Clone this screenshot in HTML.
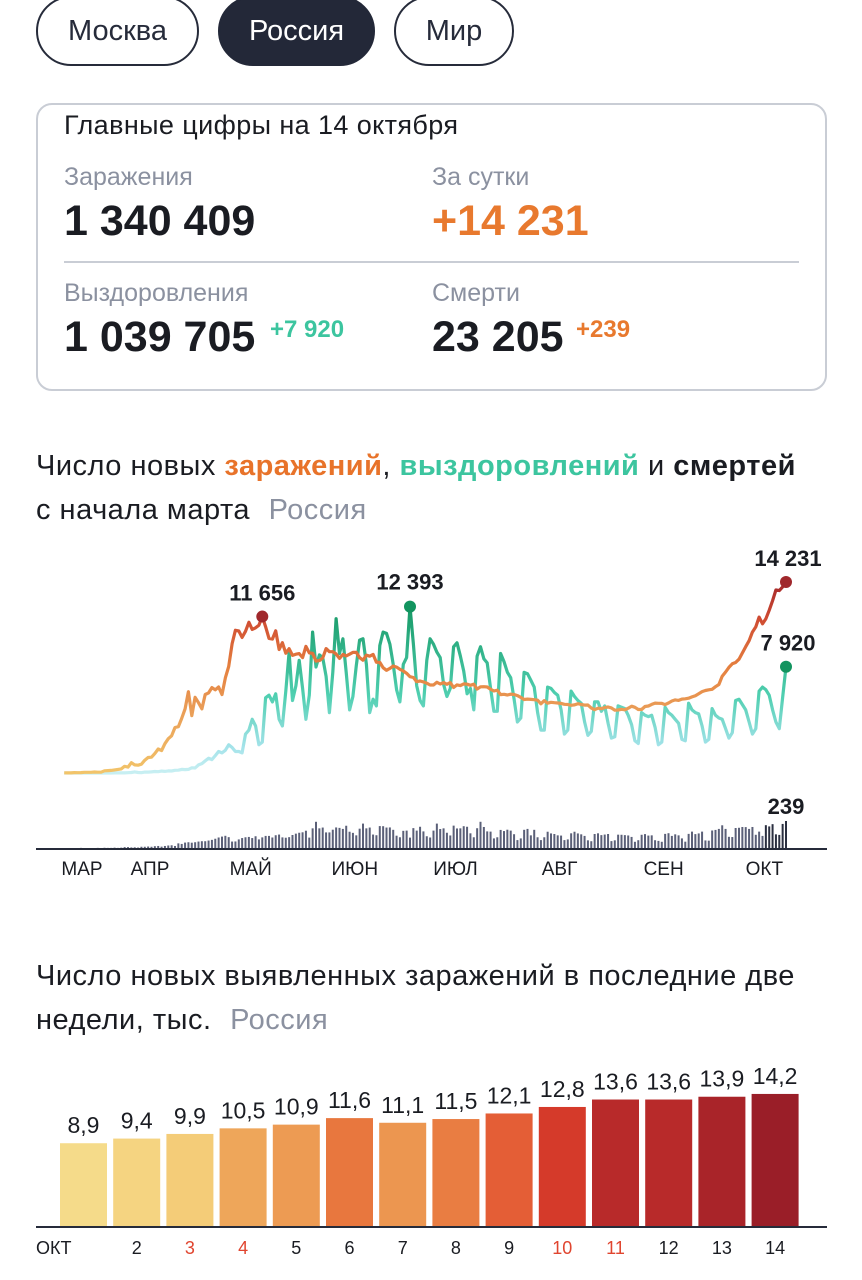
<!DOCTYPE html>
<html><head><meta charset="utf-8">
<style>
*{margin:0;padding:0;box-sizing:border-box}
body{width:862px;height:1280px;background:#fff;font-family:"Liberation Sans",sans-serif;color:#1a1c22;position:relative;overflow:hidden}
.abs{position:absolute;white-space:nowrap}
.tab{position:absolute;top:-4px;height:70px;border:2px solid #262b3a;border-radius:35px;font-size:29px;line-height:66px;text-align:center;color:#262b3a}
.lbl{font-size:25px;color:#8b91a0}
.big{font-size:43px;font-weight:bold}
.sup{font-size:24px;font-weight:bold}
.ttl{font-size:29px;color:#1a1c22;letter-spacing:0.5px}
</style></head><body>
<div class="tab" style="left:36px;width:163px">Москва</div>
<div class="tab" style="left:218px;width:157px;background:#232838;color:#fff;border-color:#232838">Россия</div>
<div class="tab" style="left:394px;width:120px">Мир</div>

<div class="abs" style="left:36px;top:103px;width:791px;height:288px;border:2px solid #c9cdd5;border-radius:16px"></div>
<div class="abs" style="left:64px;top:110px;font-size:27px;letter-spacing:0.4px">Главные цифры на 14 октября</div>
<div class="abs lbl" style="left:64px;top:163px">Заражения</div>
<div class="abs big" style="left:64px;top:197px">1 340 409</div>
<div class="abs lbl" style="left:432px;top:163px">За сутки</div>
<div class="abs big" style="left:432px;top:197px;color:#e8792e">+14 231</div>
<div class="abs" style="left:64px;top:261px;width:735px;height:2px;background:#c9cdd5"></div>
<div class="abs lbl" style="left:64px;top:279px">Выздоровления</div>
<div class="abs big" style="left:64px;top:313px">1 039 705</div>
<div class="abs sup" style="left:270px;top:316px;color:#3cc59f">+7 920</div>
<div class="abs lbl" style="left:432px;top:279px">Смерти</div>
<div class="abs big" style="left:432px;top:313px">23 205</div>
<div class="abs sup" style="left:576px;top:316px;color:#e8792e">+239</div>

<div class="abs ttl" style="left:36px;top:450px">Число новых <b style="color:#e8732a">заражений</b>, <b style="color:#3cc59f">выздоровлений</b> и <b>смертей</b></div>
<div class="abs ttl" style="left:36px;top:494px">с начала марта <span style="color:#8b91a0;margin-left:10px">Россия</span></div>

<svg id="lc" class="abs" style="left:0;top:530px" width="862" height="360" viewBox="0 530 862 360">
<defs>
<linearGradient id="gI" gradientUnits="userSpaceOnUse" x1="0" y1="773" x2="0" y2="580">
<stop offset="0" stop-color="#f2c46a"/><stop offset="0.35" stop-color="#e99a55"/><stop offset="0.55" stop-color="#e5803f"/><stop offset="0.8" stop-color="#cf4b32"/><stop offset="1" stop-color="#a1262a"/></linearGradient>
<linearGradient id="gR" gradientUnits="userSpaceOnUse" x1="0" y1="773" x2="0" y2="600">
<stop offset="0" stop-color="#c8eff2"/><stop offset="0.15" stop-color="#a4e3ea"/><stop offset="0.45" stop-color="#4fcfb0"/><stop offset="1" stop-color="#12945f"/></linearGradient>
</defs>
</svg>

<div class="abs ttl" style="left:36px;top:960px">Число новых выявленных заражений в последние две</div>
<div class="abs ttl" style="left:36px;top:1004px">недели, тыс. <span style="color:#8b91a0;margin-left:10px">Россия</span></div>
<svg id="bc" class="abs" style="left:0;top:1050px" width="862" height="230" viewBox="0 1050 862 230"></svg>

<script>
const infections=[0,0,0,1,0,0,0,0,3,3,7,6,14,11,4,30,21,33,52,54,53,71,57,56,163,182,196,228,270,302,500,
440,771,601,582,658,954,1154,1175,1459,1786,1667,2186,2558,2774,3388,3448,4070,4785,6060,4268,5642,5236,4774,5849,5966,6361,6198,6411,5841,7099,
7933,9623,10633,10581,10102,10559,11231,10699,10817,11012,11656,10899,10028,9974,10598,9200,9709,8926,9263,8764,8849,8894,8599,9434,8946,8915,8338,8371,8572,9268,9035,
9035,8863,8536,8831,8726,8855,8984,8985,8595,8404,8779,8706,8835,8248,8246,7843,7652,7790,7972,7889,7728,7600,7425,7176,7113,6800,6852,6791,6693,6556,
6556,6760,6632,6736,6611,6736,6368,6562,6509,6635,6615,6537,6615,6248,6422,6428,6406,6234,6109,6170,5842,5862,5811,5871,5848,5765,5635,5475,5509,5482,5462,
5427,5159,5394,5204,5267,5241,5212,5189,5118,5102,5041,5077,5161,5102,5061,5065,4839,4718,4828,4790,4870,4921,4852,4676,4696,4744,4711,4829,4980,4897,4729,
4729,4952,4993,5110,5205,5195,5185,5099,5218,5363,5449,5406,5509,5529,5572,5670,5762,5905,6065,6148,6196,6234,6431,6595,7212,7523,7867,8135,8232,8481,
8945,9412,9859,10499,10888,11615,11115,11493,12126,12846,13634,13592,13868,14231];
const recoveries=[0,0,0,0,0,0,0,0,0,0,0,0,0,0,0,0,0,0,0,0,0,0,0,0,0,0,1,8,5,6,6,
20,40,80,40,25,70,70,85,115,100,140,120,160,150,200,210,270,250,270,390,370,600,700,900,1100,1000,1300,1600,1500,1700,
2100,1900,1600,1600,1500,2900,3200,4000,3500,2100,2300,5600,5800,5300,5900,4000,3500,6100,9000,5400,6500,8400,6300,4000,5800,10500,7900,8800,8600,7200,4500,
7500,11500,8900,10000,7500,4700,5700,8000,9900,10000,8100,4500,5500,5000,9500,10500,10400,9600,8100,6200,5300,8100,8600,12393,9600,6500,5400,5000,8400,10000,
9600,9000,8600,6600,5700,6300,9400,9700,8700,7600,5900,6300,4700,8700,9400,8500,8200,6300,4600,4600,8900,8300,7500,7100,5500,3800,4100,7500,7400,6900,6400,
4500,3200,3200,6400,6300,6000,5800,4700,2900,3200,6100,5700,5400,5200,3800,2800,3100,5300,5300,4600,5000,3700,2600,2700,5000,4900,4800,4300,3600,2400,2200,
4500,4300,4200,4300,3400,2100,2300,4900,4500,4300,4000,3700,2500,2400,5200,4700,4500,4400,3500,2300,2500,4800,4300,4100,4000,3300,2600,3000,5400,5500,
5100,4700,3800,2900,3300,6100,6400,6200,5800,4700,3800,3300,5600,7920];
const deaths=[0,0,0,0,0,0,0,0,0,0,0,0,0,0,0,0,0,1,0,0,0,0,1,0,2,1,1,3,1,3,8,
8,5,6,4,11,11,13,11,16,18,12,18,22,24,18,41,36,48,51,47,51,57,60,60,66,72,82,93,101,108,
96,57,58,76,88,95,98,88,104,76,94,107,107,93,113,119,94,91,96,115,127,135,139,153,92,174,232,174,181,138,138,
162,182,178,169,197,144,134,112,171,216,174,181,119,113,194,193,181,182,161,109,95,152,154,92,176,154,188,147,104,93,
154,216,168,174,135,111,198,173,174,193,188,130,95,175,232,186,147,145,85,95,160,150,162,154,122,70,85,161,169,112,161,
95,70,95,144,129,124,112,110,70,76,130,144,129,121,107,68,60,124,130,114,119,124,61,68,118,117,114,111,98,55,69,
117,123,110,112,69,63,55,125,131,107,121,112,85,56,125,145,123,129,145,67,65,155,160,169,201,169,99,97,177,179,
186,185,169,186,117,145,107,202,191,211,121,116,213,239];
const monthLabels=["МАР","АПР","МАЙ","ИЮН","ИЮЛ","АВГ","СЕН","ОКТ"];
const monthStartDays=[0,31,61,92,122,153,184,214];
const barDays=["ОКТ","2","3","4","5","6","7","8","9","10","11","12","13","14"];
const barValues=[8.9,9.4,9.9,10.5,10.9,11.6,11.1,11.5,12.1,12.8,13.6,13.6,13.9,14.2];
const barHolidays=[false,false,true,true,false,false,false,false,false,true,true,false,false,false];

const NS="http://www.w3.org/2000/svg";
function mk(p,tag,attrs){const e=document.createElementNS(NS,tag);for(const k in attrs)e.setAttribute(k,attrs[k]);p.appendChild(e);return e;}
const lc=document.getElementById('lc');
const N=infections.length;
const START=12;
const dayW=(786-128)/(N-1-31);
const xS=i=>786-(N-1-i)*dayW;
const yS=v=>773-v*(191/14231);
const yD=v=>848-v*(27/239);
deaths.forEach((d,i)=>{
  if(i<START)return;
  const h=848-yD(d);
  const r=mk(lc,'rect',{x:xS(i)-1,y:yD(d),width:2,height:Math.max(h,0.3),fill:i>=N-7?'#2a2f40':'#5b6078'});
  
  
});
const ax=mk(lc,'line',{x1:36,x2:827,y1:849,y2:849,stroke:'#262b3a','stroke-width':2});


monthLabels.forEach((m,k)=>{
  const t=mk(lc,'text',{x:Math.max(82,xS(monthStartDays[k])+22),y:875,'text-anchor':'middle','font-size':19,fill:'#1a1c22'});
  t.textContent=m;
  
  
});
function path(arr){let s='';for(let i=START;i<arr.length;i++)s+=(i>START?'L':'M')+xS(i).toFixed(1)+' '+yS(arr[i]).toFixed(1);return s;}
const rp=mk(lc,'path',{d:path(recoveries),fill:'none',stroke:'url(#gR)','stroke-width':3.2,'stroke-linejoin':'round'});


const ip=mk(lc,'path',{d:path(infections),fill:'none',stroke:'url(#gI)','stroke-width':3.2,'stroke-linejoin':'round'});


function marker(arr,idx,color,label,dx,dy,name){
  const c=mk(lc,'circle',{cx:xS(idx),cy:yS(arr[idx]),r:6,fill:color});
  
  
  const t=mk(lc,'text',{x:xS(idx)+dx,y:yS(arr[idx])+dy,'text-anchor':'middle','font-size':22,'font-weight':'bold',fill:'#1a1c22'});
  t.textContent=label;
  
  
}
const fmt=v=>String(v).replace(/\B(?=(\d{3})+(?!\d))/g,' ');
let pk=0;for(let i=0;i<120;i++)if(infections[i]>infections[pk])pk=i;
marker(infections,pk,'#a0282c',fmt(infections[pk]),0,-16,'infections-peak');
let rk=0;for(let i=0;i<N;i++)if(recoveries[i]>recoveries[rk])rk=i;
marker(recoveries,rk,'#12945f',fmt(recoveries[rk]),0,-17,'recoveries-peak');
marker(infections,N-1,'#a0282c',fmt(infections[N-1]),2,-16,'infections-last');
marker(recoveries,N-1,'#12945f',fmt(recoveries[N-1]),2,-16,'recoveries-last');
const dl=mk(lc,'text',{x:xS(N-1),y:yD(deaths[N-1])-7,'text-anchor':'middle','font-size':22,'font-weight':'bold',fill:'#1a1c22'});
dl.textContent=deaths[N-1];



const bc=document.getElementById('bc');
const bx=i=>60+i*53.2;
const by=v=>1226-v*9.3;
const stops=[[8.9,[245,219,138]],[9.9,[244,204,120]],[10.5,[238,166,90]],[11.1,[236,150,80]],[11.6,[232,119,62]],[12.1,[228,94,54]],[12.8,[213,58,42]],[13.6,[184,42,42]],[14.2,[154,30,40]]];
function col(v){for(let k=1;k<stops.length;k++){if(v<=stops[k][0]){const a=stops[k-1],b=stops[k];const t=(v-a[0])/(b[0]-a[0]);return 'rgb('+a[1].map((c,j)=>Math.round(c+(b[1][j]-c)*t)).join(',')+')';}}return 'rgb(154,30,40)';}
barValues.forEach((v,i)=>{
  const r=mk(bc,'rect',{x:bx(i),y:by(v),width:47,height:1226-by(v),fill:col(v)});
  
  
  const t=mk(bc,'text',{x:bx(i)+23.5,y:by(v)-10,'text-anchor':'middle','font-size':23,fill:'#1a1c22'});
  t.textContent=String(v).replace('.',',');
  
  
  const d=mk(bc,'text',{x:i===0?36:bx(i)+23.5,y:1254,'text-anchor':i===0?'start':'middle','font-size':18,fill:barHolidays[i]?'#e0452f':'#1a1c22'});
  d.textContent=barDays[i];
  
  
});
const bax=mk(bc,'line',{x1:36,x2:827,y1:1227,y2:1227,stroke:'#262b3a','stroke-width':2});


</script>
</body></html>
